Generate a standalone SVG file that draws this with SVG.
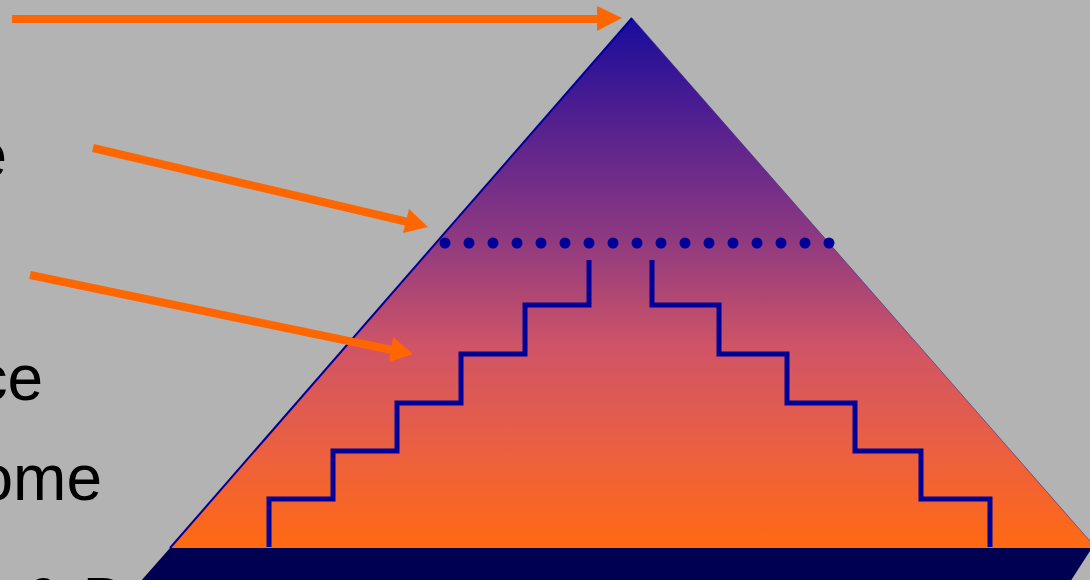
<svg xmlns="http://www.w3.org/2000/svg" width="1090" height="580" viewBox="0 0 1090 580">
<style>
.t{font-family:"Liberation Sans",Arial,sans-serif;font-size:64px;fill:#000}
.step{fill:none;stroke:#000099;stroke-width:5;stroke-linejoin:miter}
.arr{stroke:#ff6600;stroke-width:8;fill:none}
.dot{fill:#000099}
</style>
<defs>
<linearGradient id="pg" x1="0" y1="18" x2="0" y2="548" gradientUnits="userSpaceOnUse">
<stop offset="0" stop-color="#180c9c"/>
<stop offset="0.2" stop-color="#55208f"/>
<stop offset="0.42" stop-color="#8f3a80"/>
<stop offset="0.62" stop-color="#cf5466"/>
<stop offset="0.82" stop-color="#ec6040"/>
<stop offset="1" stop-color="#ff6a12"/>
</linearGradient>
<marker id="ah" markerWidth="6" markerHeight="6" refX="5.5" refY="3" orient="auto" markerUnits="strokeWidth">
<path d="M0,0 L6,3 L0,6 z" fill="#ff6600"/>
</marker>
</defs>
<rect width="1090" height="580" fill="#b3b3b3"/>
<g id="labels">
<text class="t" x="7" y="177" text-anchor="end">e</text>
<text class="t" x="43" y="400" text-anchor="end">ce</text>
<text class="t" x="102" y="500" text-anchor="end">ome</text>
<text class="t" x="22" y="623">&amp; D</text>
</g>
<g id="pyramid">
<polygon points="632,18 170,548 1096,548" fill="url(#pg)"/>
<line x1="632" y1="18" x2="170" y2="548" stroke="#000099" stroke-width="2"/>
<line x1="632" y1="18" x2="1096" y2="548" stroke="#3a2a80" stroke-width="1" opacity="0.6"/>
</g>
<g id="base">
<polygon points="170,548 1092,548 1070,582 140,582" fill="#000052"/>
</g>
<g id="dotted-line">
<circle class="dot" cx="445" cy="243" r="5.5"/>
<circle class="dot" cx="469" cy="243" r="5.5"/>
<circle class="dot" cx="493" cy="243" r="5.5"/>
<circle class="dot" cx="517" cy="243" r="5.5"/>
<circle class="dot" cx="541" cy="243" r="5.5"/>
<circle class="dot" cx="565" cy="243" r="5.5"/>
<circle class="dot" cx="589" cy="243" r="5.5"/>
<circle class="dot" cx="613" cy="243" r="5.5"/>
<circle class="dot" cx="637" cy="243" r="5.5"/>
<circle class="dot" cx="661" cy="243" r="5.5"/>
<circle class="dot" cx="685" cy="243" r="5.5"/>
<circle class="dot" cx="709" cy="243" r="5.5"/>
<circle class="dot" cx="733" cy="243" r="5.5"/>
<circle class="dot" cx="757" cy="243" r="5.5"/>
<circle class="dot" cx="781" cy="243" r="5.5"/>
<circle class="dot" cx="805" cy="243" r="5.5"/>
<circle class="dot" cx="829" cy="243" r="5.5"/>
</g>
<g id="stairs">
<polyline class="step" points="589,260 589,305 525,305 525,354 461,354 461,403 397,403 397,451 333,451 333,499 269,499 269,547"/>
<polyline class="step" points="652,260 652,305 719,305 719,354 787,354 787,403 855,403 855,451 921,451 921,499 990,499 990,547"/>
</g>
<g id="connectors">
<line class="arr" x1="12" y1="19" x2="599" y2="19"/>
<polygon points="622,18 597,6 597,31" fill="#ff6600"/>
<line class="arr" x1="93" y1="148" x2="408" y2="222"/>
<polygon points="428,227 409,209 403,233" fill="#ff6600"/>
<line class="arr" x1="30" y1="275" x2="392" y2="350"/>
<polygon points="413,354 393,337 389,362" fill="#ff6600"/>
</g>
</svg>
